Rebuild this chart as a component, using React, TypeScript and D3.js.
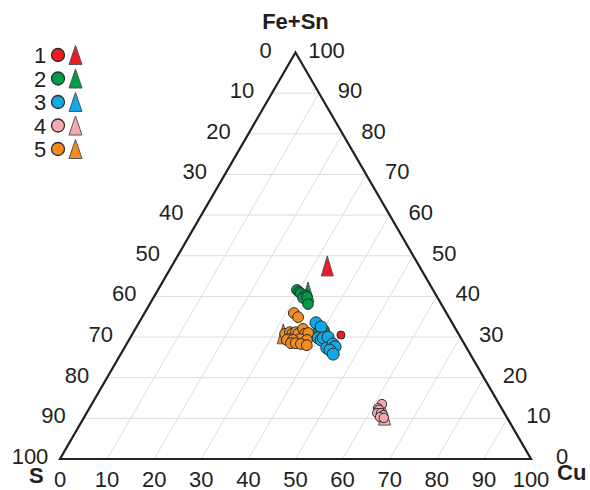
import React from "react";
import * as d3 from "d3";

// Ternary compositions: [S, Cu, Fe+Sn] (wt %)
const group1Circles: [number, number, number][] = [
  [25.1, 44.4, 30.5],
  [29.3, 42.2, 28.5],
];
const group1Triangles: [number, number, number][] = [[19.5, 33.0, 47.5]];

const group2Circles: [number, number, number][] = [
  [28.9, 29.5, 41.6],
  [28.7, 30.2, 41.1],
  [28.5, 30.7, 40.8],
  [27.8, 31.9, 40.3],
  [28.6, 31.8, 39.6],
  [27.6, 32.5, 39.9],
  [28.3, 33.6, 38.1],
  [28.5, 39.0, 32.5],
  [28.8, 39.7, 31.5],
  [28.1, 40.2, 31.7],
  [30.1, 38.9, 31.0],
  [29.1, 40.4, 30.5],
];
const group2Triangles: [number, number, number][] = [[26.8, 32.1, 41.1]];

const group3Circles: [number, number, number][] = [
  [28.9, 37.6, 33.5],
  [28.3, 39.2, 32.5],
  [30.3, 39.9, 29.8],
  [29.9, 40.8, 29.3],
  [29.2, 41.0, 29.8],
  [28.1, 41.9, 30.0],
  [29.7, 43.0, 27.3],
  [27.9, 43.8, 28.3],
  [27.8, 44.6, 27.6],
  [29.3, 43.9, 26.8],
  [29.1, 45.1, 25.8],
];
const group3Triangles: [number, number, number][] = [];

const group4Circles: [number, number, number][] = [
  [24.9, 61.6, 13.5],
  [26.2, 61.3, 12.5],
  [26.2, 61.7, 12.1],
  [27.0, 61.7, 11.3],
  [26.2, 62.5, 11.3],
  [26.0, 63.2, 10.8],
  [26.9, 62.8, 10.3],
  [26.2, 63.7, 10.1],
];
const group4Triangles: [number, number, number][] = [[25.7, 63.5, 10.8]];

const group5Circles: [number, number, number][] = [
  [32.4, 31.7, 35.9],
  [32.0, 33.1, 34.9],
  [36.8, 32.4, 30.8],
  [35.6, 33.2, 31.2],
  [35.3, 33.9, 30.8],
  [36.6, 33.9, 29.5],
  [37.2, 33.5, 29.3],
  [34.3, 34.5, 31.2],
  [34.0, 35.2, 30.8],
  [32.4, 35.6, 32.0],
  [32.6, 36.6, 30.8],
  [31.8, 37.2, 31.0],
  [34.3, 36.2, 29.5],
  [32.9, 37.8, 29.3],
  [35.9, 34.8, 29.3],
  [36.7, 34.8, 28.5],
  [35.7, 35.8, 28.5],
  [34.7, 37.0, 28.3],
  [33.6, 38.4, 28.0],
];
const group5Triangles: [number, number, number][] = [[37.2, 32.0, 30.8]];

const groupNames = ["1", "2", "3", "4", "5"];
const groupColors = ["#ed1c24", "#009a49", "#12a8e6", "#f5aab1", "#f58a1f"];

const gridTicks = [10, 20, 30, 40, 50, 60, 70, 80, 90];
const axisTicks = [0, 10, 20, 30, 40, 50, 60, 70, 80, 90, 100];

const cornerTop = "Fe+Sn";
const cornerLeft = "S";
const cornerRight = "Cu";

const FONT = "'Liberation Sans', Arial, Helvetica, sans-serif";

const groups = [
  { circles: group1Circles, triangles: group1Triangles },
  { circles: group2Circles, triangles: group2Triangles },
  { circles: group3Circles, triangles: group3Triangles },
  { circles: group4Circles, triangles: group4Triangles },
  { circles: group5Circles, triangles: group5Triangles },
];

export default function App() {
  const cuScale = d3.scaleLinear().domain([0, 100]).range([60, 531]);
  const feScale = d3.scaleLinear().domain([0, 100]).range([459, 52.5]);

  const project = (s: number, c: number, f: number): [number, number] => {
    const t = s + c + f;
    const cc = (c / t) * 100;
    const ff = (f / t) * 100;
    return [cuScale(cc + ff / 2), feScale(ff)];
  };

  const A = project(0, 0, 100);
  const L = project(100, 0, 0);
  const R = project(0, 100, 0);

  const triPath = (x: number, y: number, w: number, h: number) =>
    `M${x},${y - h / 2}L${x + w / 2},${y + h / 2}L${x - w / 2},${y + h / 2}Z`;

  const circleR = [4, 5.3, 6, 4.7, 5.4];
  const drawOrder = [0, 1, 4, 2, 3];

  const textColor = "#231f20";

  return (
    <svg
      width={590}
      height={490}
      style={{ position: "absolute", left: 0, top: 0, background: "#fff" }}
      fontFamily={FONT}
    >
      <rect x={0} y={0} width={590} height={490} fill="#fff" />
      {/* grid: constant Fe+Sn (horizontal) */}
      {gridTicks.map((f) => {
        const p1 = project(100 - f, 0, f);
        const p2 = project(0, 100 - f, f);
        return (
          <line key={"h" + f} x1={p1[0]} y1={p1[1]} x2={p2[0]} y2={p2[1]} stroke="#dcdcdc" strokeWidth={1} />
        );
      })}
      {/* grid: constant Cu */}
      {gridTicks.map((c) => {
        const p1 = project(100 - c, c, 0);
        const p2 = project(0, c, 100 - c);
        return (
          <line key={"c" + c} x1={p1[0]} y1={p1[1]} x2={p2[0]} y2={p2[1]} stroke="#dcdcdc" strokeWidth={1} />
        );
      })}
      {/* outline */}
      <path
        d={`M${A[0]},${A[1]}L${R[0]},${R[1]}L${L[0]},${L[1]}Z`}
        fill="none"
        stroke={textColor}
        strokeWidth={2.2}
        strokeLinejoin="miter"
      />
      {/* left labels: S */}
      {axisTicks.map((s) => {
        const p = project(s, 0, 100 - s);
        return (
          <text key={"ls" + s} x={p[0] - 30} y={p[1] + 5} textAnchor="middle" fontSize={22} fill={textColor}>
            {s}
          </text>
        );
      })}
      {/* right labels: Fe+Sn */}
      {axisTicks.map((f) => {
        const p = project(0, 100 - f, f);
        return (
          <text key={"rf" + f} x={p[0] + 31} y={p[1] + 5} textAnchor="middle" fontSize={22} fill={textColor}>
            {f}
          </text>
        );
      })}
      {/* bottom labels: Cu */}
      {axisTicks.map((c) => {
        const p = project(100 - c, c, 0);
        return (
          <text key={"bc" + c} x={p[0]} y={p[1] + 28} textAnchor="middle" fontSize={22} fill={textColor}>
            {c}
          </text>
        );
      })}
      {/* corner titles */}
      <text x={A[0]} y={29} textAnchor="middle" fontSize={22} fontWeight="bold" fill={textColor}>
        {cornerTop}
      </text>
      <text x={29} y={483} fontSize={22} fontWeight="bold" fill={textColor}>
        {cornerLeft}
      </text>
      <text x={557} y={480} fontSize={22} fontWeight="bold" fill={textColor}>
        {cornerRight}
      </text>
      {/* data: triangles first */}
      {drawOrder.map((gi) =>
        groups[gi].triangles.map((d, i) => {
          const p = project(d[0], d[1], d[2]);
          return (
            <path
              key={"t" + gi + "-" + i}
              d={triPath(p[0], p[1], 12, 20)}
              fill={groupColors[gi]}
              stroke="#555"
              strokeWidth={1}
            />
          );
        })
      )}
      {drawOrder.map((gi) =>
        groups[gi].circles.map((d, i) => {
          const p = project(d[0], d[1], d[2]);
          return (
            <circle
              key={"c" + gi + "-" + i}
              cx={p[0]}
              cy={p[1]}
              r={circleR[gi]}
              fill={groupColors[gi]}
              stroke="#2b2b2b"
              strokeWidth={1}
            />
          );
        })
      )}
      {/* legend */}
      {groupNames.map((name, i) => {
        const y = 55 + i * 23.5;
        return (
          <g key={"lg" + name}>
            <text x={40} y={y + 8} textAnchor="middle" fontSize={22} fill={textColor}>
              {name}
            </text>
            <circle cx={58} cy={y} r={6.5} fill={groupColors[i]} stroke="#2b2b2b" strokeWidth={1.3} />
            <path d={triPath(75.5, y, 13, 19)} fill={groupColors[i]} stroke="#555" strokeWidth={1} />
          </g>
        );
      })}
    </svg>
  );
}
